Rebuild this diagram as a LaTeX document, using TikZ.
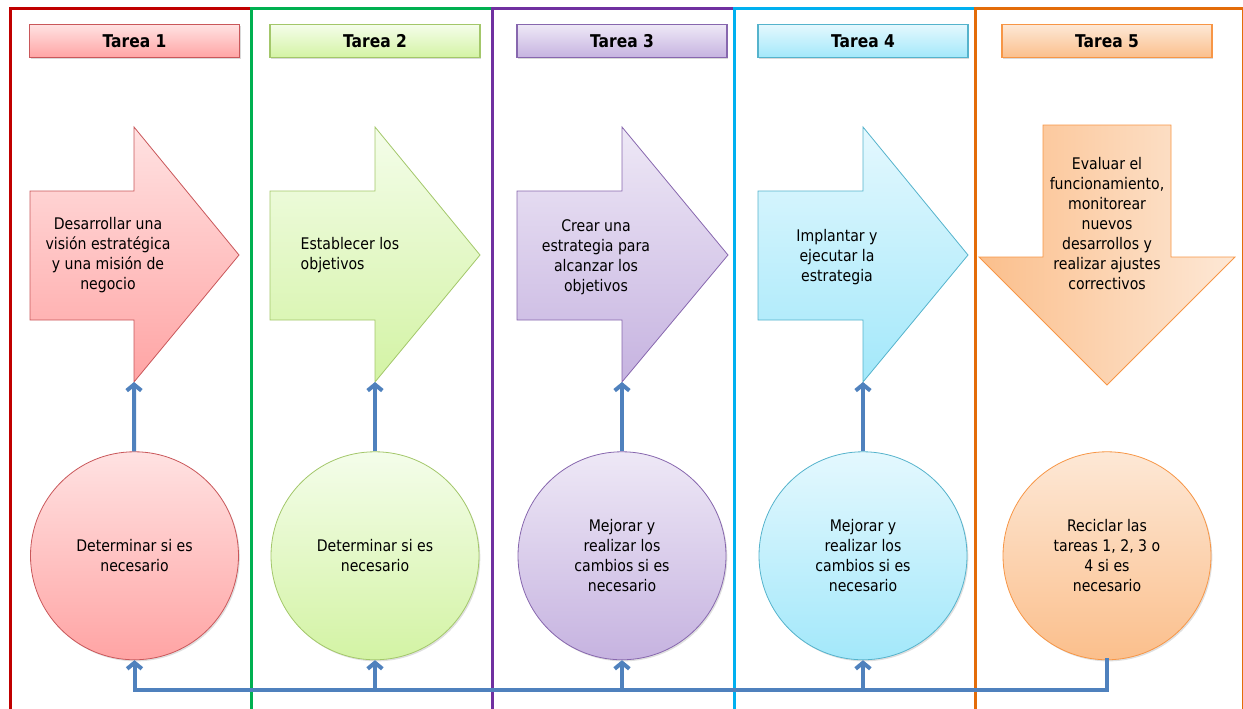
\documentclass[tikz,border=0pt]{standalone}
\usepackage{fontspec}
\setmainfont{DejaVu Sans}[FakeStretch=0.88]
\usetikzlibrary{arrows.meta, shadows, positioning}
\definecolor{rojoM}{HTML}{C00000}
\definecolor{verdeM}{HTML}{00B050}
\definecolor{moradoM}{HTML}{7030A0}
\definecolor{celesteM}{HTML}{00B0F0}
\definecolor{naranjaM}{HTML}{E36C09}
\definecolor{rojoB}{HTML}{C9575A}
\definecolor{verdeB}{HTML}{A3C76A}
\definecolor{moradoB}{HTML}{8767AE}
\definecolor{celesteB}{HTML}{55B3CC}
\definecolor{naranjaB}{HTML}{F79646}
\definecolor{rojoA}{HTML}{FFE2E2}
\definecolor{rojoZ}{HTML}{FFA4A4}
\definecolor{verdeA}{HTML}{F4FDEA}
\definecolor{verdeZ}{HTML}{D3F3A4}
\definecolor{moradoA}{HTML}{EEE8F6}
\definecolor{moradoZ}{HTML}{C6B3E0}
\definecolor{celesteA}{HTML}{E4F8FE}
\definecolor{celesteZ}{HTML}{A3E8FA}
\definecolor{naranjaA}{HTML}{FDE8D6}
\definecolor{naranjaZ}{HTML}{FBBF8C}
\definecolor{azul}{HTML}{4F81BD}
\tikzstyle{cadre} = [line width=2.25pt]
\tikzstyle{forme} = [line width=0.6pt, line join=miter]
\tikzstyle{tarea} = [rectangle, draw, line width=0.8pt, minimum width=157.5pt, minimum height=24.75pt, font=\fontsize{13.2}{15}\selectfont\bfseries, drop shadow={shadow xshift=1pt, shadow yshift=-1.2pt, opacity=0.3}]
\tikzstyle{rond} = [circle, draw, line width=0.6pt, minimum size=156pt, align=center, font=\fontsize{12}{15}\selectfont, drop shadow={shadow xshift=1pt, shadow yshift=-1.2pt, opacity=0.25}]
\tikzstyle{texte} = [align=center, font=\fontsize{12}{15}\selectfont]
\tikzstyle{fleche} = [-{Straight Barb[length=4.5pt,width=11pt]}, azul, line width=3pt]
\tikzstyle{trait} = [-, azul, line width=3pt, line cap=rect, line join=miter]

\begin{document}
\begin{tikzpicture}[x=0.75pt, y=-0.75pt]

	\useasboundingbox (0,0) rectangle (1243,708);

	%% Cadres
	\draw[cadre, rojoM] (10,8) rectangle (251,720);
	\draw[cadre, verdeM] (251,8) rectangle (492,720);
	\draw[cadre, moradoM] (492,8) rectangle (734,720);
	\draw[cadre, celesteM] (734,8) rectangle (975,720);
	\draw[cadre, naranjaM] (975,8) rectangle (1243,720);

	%% Tareas
	\node (T1) [tarea, draw=rojoB, top color=rojoA, bottom color=rojoZ] at (134.5,41) {Tarea 1};
	\node (T2) [tarea, draw=verdeB, top color=verdeA, bottom color=verdeZ] at (375,41) {Tarea 2};
	\node (T3) [tarea, draw=moradoB, top color=moradoA, bottom color=moradoZ] at (622,41) {Tarea 3};
	\node (T4) [tarea, draw=celesteB, top color=celesteA, bottom color=celesteZ] at (863,41) {Tarea 4};
	\node (T5) [tarea, draw=naranjaB, top color=naranjaA, bottom color=naranjaZ] at (1107,41) {Tarea 5};

	%% Flechas
	\draw[forme, draw=rojoB, top color=rojoA, bottom color=rojoZ] (30,191) -- (134,191) -- (134,127) -- (239,255) -- (134,382) -- (134,320) -- (30,320) -- cycle;
	\draw[forme, draw=verdeB, top color=verdeA, bottom color=verdeZ] (270,191) -- (375,191) -- (375,127) -- (480,255) -- (375,382) -- (375,320) -- (270,320) -- cycle;
	\draw[forme, draw=moradoB, top color=moradoA, bottom color=moradoZ] (517,191) -- (622,191) -- (622,127) -- (728,255) -- (622,382) -- (622,320) -- (517,320) -- cycle;
	\draw[forme, draw=celesteB, top color=celesteA, bottom color=celesteZ] (758,191) -- (863,191) -- (863,127) -- (968,255) -- (863,382) -- (863,320) -- (758,320) -- cycle;
	\draw[forme, draw=naranjaB, left color=naranjaZ, right color=naranjaA] (1043,125) -- (1171,125) -- (1171,257) -- (1235,257) -- (1107,385) -- (979,257) -- (1043,257) -- cycle;

	\node (A1) [texte] at (108,255) {Desarrollar una\\visión estratégica\\y una misión de\\negocio};
	\node (A2) [texte, align=left, anchor=west] at (296,255) {Establecer los\\objetivos};
	\node (A3) [texte] at (596,257) {Crear una\\estrategia para\\alcanzar los\\objetivos};
	\node (A4) [texte] at (837,257) {Implantar y\\ejecutar la\\estrategia};
	\node (A5) [texte] at (1107,224) {Evaluar el\\funcionamiento,\\monitorear\\nuevos\\desarrollos y\\realizar ajustes\\correctivos};

	\coordinate (h1) at (134,382);
	\coordinate (h2) at (375,382);
	\coordinate (h3) at (622,382);
	\coordinate (h4) at (863,382);

	%% Circulos
	\node (C1) [rond, draw=rojoB, top color=rojoA, bottom color=rojoZ, below=295pt of T1] {Determinar si es\\necesario};
	\node (C2) [rond, draw=verdeB, top color=verdeA, bottom color=verdeZ, below=295pt of T2] {Determinar si es\\necesario};
	\node (C3) [rond, draw=moradoB, top color=moradoA, bottom color=moradoZ, below=295pt of T3] {Mejorar y\\realizar los\\cambios si es\\necesario};
	\node (C4) [rond, draw=celesteB, top color=celesteA, bottom color=celesteZ, below=295pt of T4] {Mejorar y\\realizar los\\cambios si es\\necesario};
	\node (C5) [rond, draw=naranjaB, top color=naranjaA, bottom color=naranjaZ, below=295pt of T5] {Reciclar las\\tareas 1, 2, 3 o\\4 si es\\necesario};

	%% Conectores
	\draw[fleche] (C1) -- (h1);
	\draw[fleche] (C2) -- (h2);
	\draw[fleche] (C3) -- (h3);
	\draw[fleche] (C4) -- (h4);

	\coordinate (b1) at (134.5,690);
	\coordinate (b2) at (375,690);
	\coordinate (b3) at (622,690);
	\coordinate (b4) at (863,690);
	\coordinate (b5) at (1107,690);

	\draw[trait] (C5) -- (b5) -- (b1);
	\draw[fleche] (b1) -- (C1);
	\draw[fleche] (b2) -- (C2);
	\draw[fleche] (b3) -- (C3);
	\draw[fleche] (b4) -- (C4);

\end{tikzpicture}
\end{document}
